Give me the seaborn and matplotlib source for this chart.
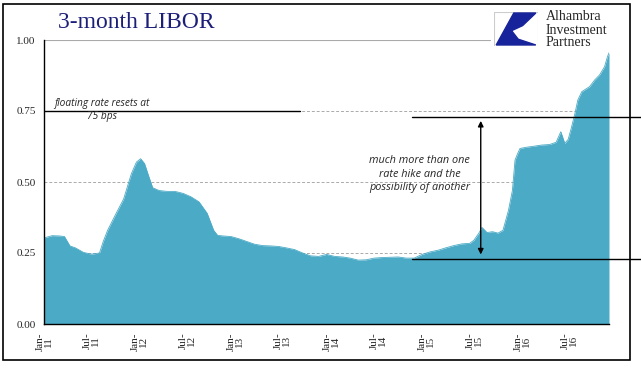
import pandas as pd
import matplotlib
matplotlib.use("Agg")
import matplotlib.pyplot as plt
import matplotlib.patches as patches
import seaborn as sns

# 3-month LIBOR (percent)
dates = ["2011-01-01", "2011-02-01", "2011-03-01", "2011-03-20", "2011-04-10", "2011-05-01",
         "2011-06-01", "2011-07-01", "2011-08-01", "2011-08-15", "2011-09-01", "2011-10-01",
         "2011-11-01", "2011-12-01", "2011-12-20", "2012-01-05", "2012-01-20", "2012-02-05",
         "2012-02-20", "2012-03-15", "2012-04-15", "2012-05-15", "2012-06-15", "2012-07-15",
         "2012-08-15", "2012-09-15", "2012-10-10", "2012-10-25", "2012-11-15", "2012-12-15",
         "2013-01-15", "2013-02-15", "2013-03-15", "2013-04-15", "2013-05-15", "2013-06-15",
         "2013-07-15", "2013-08-15", "2013-09-15", "2013-10-15", "2013-11-15", "2013-12-15",
         "2014-01-15", "2014-02-15", "2014-03-15", "2014-04-15", "2014-05-15", "2014-06-15",
         "2014-07-15", "2014-08-15", "2014-09-15", "2014-10-15", "2014-11-15", "2014-12-15",
         "2015-01-15", "2015-02-15", "2015-03-15", "2015-04-15", "2015-05-15", "2015-06-15",
         "2015-07-01", "2015-07-20", "2015-08-01", "2015-08-20", "2015-09-10", "2015-10-01",
         "2015-10-20", "2015-11-10", "2015-11-25", "2015-12-05", "2015-12-15", "2015-12-24",
         "2016-01-15", "2016-02-15", "2016-03-15", "2016-04-15", "2016-05-10", "2016-05-28",
         "2016-06-12", "2016-06-25", "2016-07-05", "2016-07-21", "2016-08-01", "2016-08-16",
         "2016-09-15", "2016-10-04", "2016-10-23", "2016-11-11", "2016-11-22", "2016-11-28"]
libor = [0.303, 0.311, 0.310, 0.308, 0.275, 0.268,
         0.252, 0.246, 0.250, 0.290, 0.330, 0.385,
         0.440, 0.530, 0.570, 0.582, 0.565, 0.520,
         0.480, 0.470, 0.467, 0.467, 0.460, 0.448,
         0.430, 0.390, 0.330, 0.312, 0.310, 0.308,
         0.300, 0.290, 0.281, 0.276, 0.275, 0.273,
         0.268, 0.262, 0.250, 0.240, 0.238, 0.245,
         0.238, 0.236, 0.232, 0.225, 0.226, 0.232,
         0.234, 0.235, 0.236, 0.232, 0.232, 0.245,
         0.254, 0.260, 0.268, 0.276, 0.282, 0.284,
         0.295, 0.320, 0.340, 0.322, 0.325, 0.320,
         0.330, 0.400, 0.470, 0.577, 0.600, 0.618,
         0.622, 0.626, 0.630, 0.632, 0.640, 0.677,
         0.636, 0.650, 0.683, 0.742, 0.789, 0.818,
         0.836, 0.859, 0.877, 0.906, 0.941, 0.955]

yticks = [0.0, 0.25, 0.50, 0.75, 1.00]
tick_dates = pd.date_range("2011-01-01", "2016-07-01", freq="6MS")
tick_labels = [d.strftime("%b-\n%y") for d in tick_dates]

df = pd.DataFrame({"date": pd.to_datetime(dates), "libor": libor})

sns.set_style("white")
plt.rcParams["font.family"] = ["Liberation Serif", "DejaVu Serif"]

fill = "#4BAAC6"
fig = plt.figure(figsize=(6.41, 3.75), dpi=100)
ax = fig.add_axes([44 / 641, 51 / 375, 565 / 641, 284 / 375])

sns.lineplot(data=df, x="date", y="libor", ax=ax, color=fill, linewidth=0.6)
ax.fill_between(df["date"], df["libor"], 0, color=fill, linewidth=0)

ax.set_xlim(df["date"].iloc[0], df["date"].iloc[-1])
ax.set_ylim(0, 1.0)
ax.set_yticks(yticks)
ax.set_yticklabels([f"{v:.2f}" for v in yticks], fontsize=8)
ax.set_xticks(tick_dates)
ax.set_xticklabels(tick_labels, rotation=90, fontsize=8, linespacing=0.9)
ax.set_xlabel("")
ax.set_ylabel("")
ax.tick_params(axis="both", direction="out", length=4, width=1, color="black", pad=2)

for v in yticks[1:4]:
    ax.axhline(v, color="#aaaaaa", lw=0.7, ls=(0, (3, 2)), zorder=0)
ax.axhline(1.0, color="#aaaaaa", lw=0.8, xmax=0.79, zorder=0)

for s in ["top", "right"]:
    ax.spines[s].set_visible(False)
for s in ["left", "bottom"]:
    ax.spines[s].set_color("black")
    ax.spines[s].set_linewidth(1.0)

# annotations
ax.axhline(0.75, xmin=0, xmax=0.453, color="black", lw=1.0)
ax.text(0.103, 0.753, "floating rate resets at\n75 bps", transform=ax.get_yaxis_transform(),
        ha="center", va="center", fontsize=7.3, style="italic", family="Open Sans",
        linespacing=1.25)

ax.axhline(0.729, xmin=0.651, xmax=1.057, color="black", lw=1.0, clip_on=False)
ax.axhline(0.229, xmin=0.651, xmax=1.057, color="black", lw=1.0, clip_on=False)
ax.annotate("", xy=(0.773, 0.725), xytext=(0.773, 0.235),
            xycoords=ax.get_yaxis_transform(), textcoords=ax.get_yaxis_transform(),
            arrowprops=dict(arrowstyle="<|-|>", color="black", lw=1.0, mutation_scale=8))
ax.text(0.665, 0.528, "much more than one\nrate hike and the\npossibility of another",
        transform=ax.get_yaxis_transform(), ha="center", va="center", fontsize=7.8,
        style="italic", family="Open Sans", linespacing=1.35)

# title
fig.text(58 / 641, 1 - 22 / 375, "3-month LIBOR", fontsize=17, color="#1c1f78",
         ha="left", va="center")

# logo
logo = fig.add_axes([494 / 641, 1 - 46 / 375, 44 / 641, 34 / 375])
logo.set_xlim(0, 1)
logo.set_ylim(0, 1)
logo.axis("off")
logo.add_patch(patches.Rectangle((0, 0), 1, 1, fill=False, edgecolor="#cccccc", lw=0.8))
logo.add_patch(patches.Polygon([(0.05, 0.03), (0.45, 0.97), (0.95, 0.97), (0.65, 0.6),
                                (0.4, 0.45), (0.55, 0.2), (0.95, 0.03)],
                               closed=True, color="#16239a"))
fig.text(546 / 641, 1 - 17 / 375, "Alhambra", fontsize=10, ha="left", va="center")
fig.text(546 / 641, 1 - 30 / 375, "Investment", fontsize=10, ha="left", va="center")
fig.text(546 / 641, 1 - 42 / 375, "Partners", fontsize=10, ha="left", va="center")

# figure border
fig.patches.append(patches.Rectangle((3 / 641, 15 / 375), 627 / 641, 356 / 375, fill=False,
                                     edgecolor="black", lw=1.2, transform=fig.transFigure,
                                     figure=fig))

fig.savefig("out.png", dpi=100)
